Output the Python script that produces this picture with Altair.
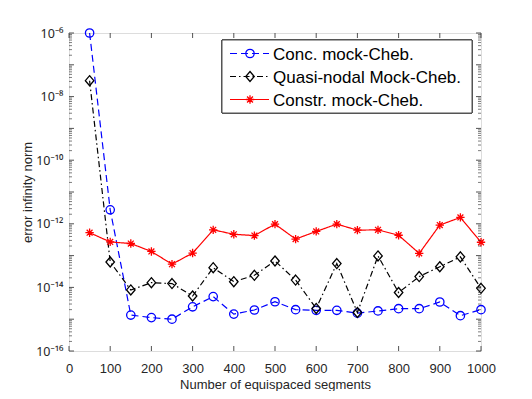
import altair as alt
import pandas as pd

# ---- data ----
segments = [50, 100, 150, 200, 250, 300, 350, 400, 450, 500,
            550, 600, 650, 700, 750, 800, 850, 900, 950, 1000]
log_conc = [-6.0, -11.56, -14.87, -14.95, -15.0, -14.61, -14.29, -14.84, -14.71, -14.45,
            -14.70, -14.72, -14.72, -14.81, -14.74, -14.67, -14.67, -14.46, -14.89, -14.70]
log_quasi = [-7.5, -13.20, -14.08, -13.85, -13.88, -14.27, -13.38, -13.82, -13.62, -13.17,
             -13.77, -14.66, -13.25, -14.79, -13.01, -14.16, -13.66, -13.35, -13.04, -14.03]
log_constr = [-12.28, -12.57, -12.62, -12.87, -13.27, -12.92, -12.19, -12.33, -12.37, -12.01,
              -12.48, -12.24, -12.01, -12.20, -12.19, -12.36, -12.93, -12.04, -11.80, -12.58]
series_names = ["Conc. mock-Cheb.", "Quasi-nodal Mock-Cheb.", "Constr. mock-Cheb."]
x_ticks = [0, 100, 200, 300, 400, 500, 600, 700, 800, 900, 1000]
y_exponents = [-16, -14, -12, -10, -8, -6]

rows = []
for name, vals in zip(series_names, [log_conc, log_quasi, log_constr]):
    for n, lv in zip(segments, vals):
        rows.append({"n": n, "err": 10 ** lv, "series": name})
df = pd.DataFrame(rows)

W, H = 412, 318
xdom = [0, 1000]
ydom = [1e-16, 1e-6]

sup = str.maketrans("-0123456789", "⁻⁰¹²³⁴⁵⁶⁷⁸⁹")
label_expr = "''"
for e in y_exponents:
    label_expr = f"(abs(log(datum.value)/LN10 - ({e})) < 0.01) ? '10{str(e).translate(sup)}' : " + label_expr

xscale = alt.Scale(domain=xdom, nice=False, zero=False)
yscale = alt.Scale(type="log", domain=ydom, nice=False)

axis_color = "#262626"
xaxis = alt.Axis(values=x_ticks, format="d", labelOverlap=False, labelFlush=False,
                 ticks=False, domain=False, grid=False,
                 labelFontSize=13, titleFontSize=13, labelColor=axis_color,
                 titleColor=axis_color, labelPadding=11, titleY=33, titleBaseline="middle",
                 titleFontWeight="normal", labelFont="Liberation Sans", titleFont="Liberation Sans")
yaxis = alt.Axis(values=[10.0 ** e for e in y_exponents], labelExpr=label_expr, labelOverlap=False,
                 labelFlush=False, ticks=False, domain=False, grid=False,
                 labelFontSize=12.5, titleFontSize=13, labelColor=axis_color,
                 titleColor=axis_color, labelPadding=6, titleX=-42, titleBaseline="middle",
                 titleFontWeight="normal", labelFont="Noto Sans", titleFont="Liberation Sans")
XT = "Number of equispaced segments"
YT = "error infinity norm"


def X(field):
    return alt.X(field, scale=xscale, axis=xaxis, title=XT)


def Y(field):
    return alt.Y(field, scale=yscale, axis=yaxis, title=YT)


base = alt.Chart(df)

asterisk = "M-1,0L1,0M0,-1L0,1M-0.7,-0.7L0.7,0.7M-0.7,0.7L0.7,-0.7"
diamond = "M0,-1L0.85,0L0,1L-0.85,0Z"
styles = {
    "Conc. mock-Cheb.": dict(color="#0000ff", dash=[7, 4], shape="circle", size=70),
    "Quasi-nodal Mock-Cheb.": dict(color="#000000", dash=[6, 3, 1.5, 3], shape=diamond, size=100),
    "Constr. mock-Cheb.": dict(color="#ff0000", dash=[1, 0], shape=asterisk, size=70),
}

layers = []
for name in series_names:
    s = styles[name]
    sub = base.transform_filter(alt.datum.series == name)
    line = sub.mark_line(color=s["color"], strokeDash=s["dash"], strokeWidth=1.2).encode(
        x=X("n:Q"), y=Y("err:Q"))
    pts = sub.mark_point(color=s["color"], shape=s["shape"], size=s["size"], filled=False,
                         strokeWidth=1.3, opacity=1).encode(x=X("n:Q"), y=Y("err:Q"))
    layers += [line, pts]

# inward ticks (MATLAB style)
xt_df = pd.DataFrame({"n": x_ticks})
yt_df = pd.DataFrame({"err": [10.0 ** e for e in range(-16, -5)]})
ym_df = pd.DataFrame({"err": [k * 10.0 ** e for e in range(-16, -6) for k in range(2, 10)]})
tick_col = axis_color
for y0, y1 in [(0, 5), (H, H - 5)]:
    layers.append(alt.Chart(xt_df).mark_rule(color=tick_col, strokeWidth=0.8).encode(
        x=X("n:Q"), y=alt.value(y0), y2=alt.value(y1)))
for x0, x1 in [(0, 5), (W, W - 5)]:
    layers.append(alt.Chart(yt_df).mark_rule(color=tick_col, strokeWidth=0.8).encode(
        y=Y("err:Q"), x=alt.value(x0), x2=alt.value(x1)))
for x0, x1 in [(0, 3), (W, W - 3)]:
    layers.append(alt.Chart(ym_df).mark_rule(color=tick_col, strokeWidth=0.6).encode(
        y=Y("err:Q"), x=alt.value(x0), x2=alt.value(x1)))

# legend box (drawn inside the plot, like MATLAB)
leg_df = pd.DataFrame({"series": series_names})
lx0, lx1, ly0, ly1 = 153, 403, 7, 80
layers.append(alt.Chart(leg_df).mark_rect(fill="white", stroke=axis_color, strokeWidth=0.8).encode(
    x=alt.value(lx0), x2=alt.value(lx1), y=alt.value(ly0), y2=alt.value(ly1)))
for i, name in enumerate(series_names):
    s = styles[name]
    yy = 20.5 + 23 * i
    one = alt.Chart(leg_df).transform_filter(alt.datum.series == name)
    layers.append(one.mark_rule(color=s["color"], strokeDash=s["dash"], strokeWidth=1.2).encode(
        x=alt.value(161), x2=alt.value(200), y=alt.value(yy)))
    layers.append(one.mark_point(color=s["color"], shape=s["shape"], size=s["size"], filled=False,
                                 strokeWidth=1.3, opacity=1).encode(x=alt.value(181), y=alt.value(yy)))
    layers.append(one.mark_text(align="left", baseline="middle", fontSize=17,
                                font="Liberation Sans", color="black").encode(
        x=alt.value(204), y=alt.value(yy + 1), text="series:N"))

chart = alt.layer(*layers).properties(
    width=W, height=H,
    autosize=alt.AutoSizeParams(type="none"),
    padding={"left": 61, "top": 25, "right": 40, "bottom": 40},
).configure_view(stroke=axis_color, strokeWidth=0.8).configure(background="white")

chart.save("out.html", embed_options={"renderer": "svg", "actions": False})
